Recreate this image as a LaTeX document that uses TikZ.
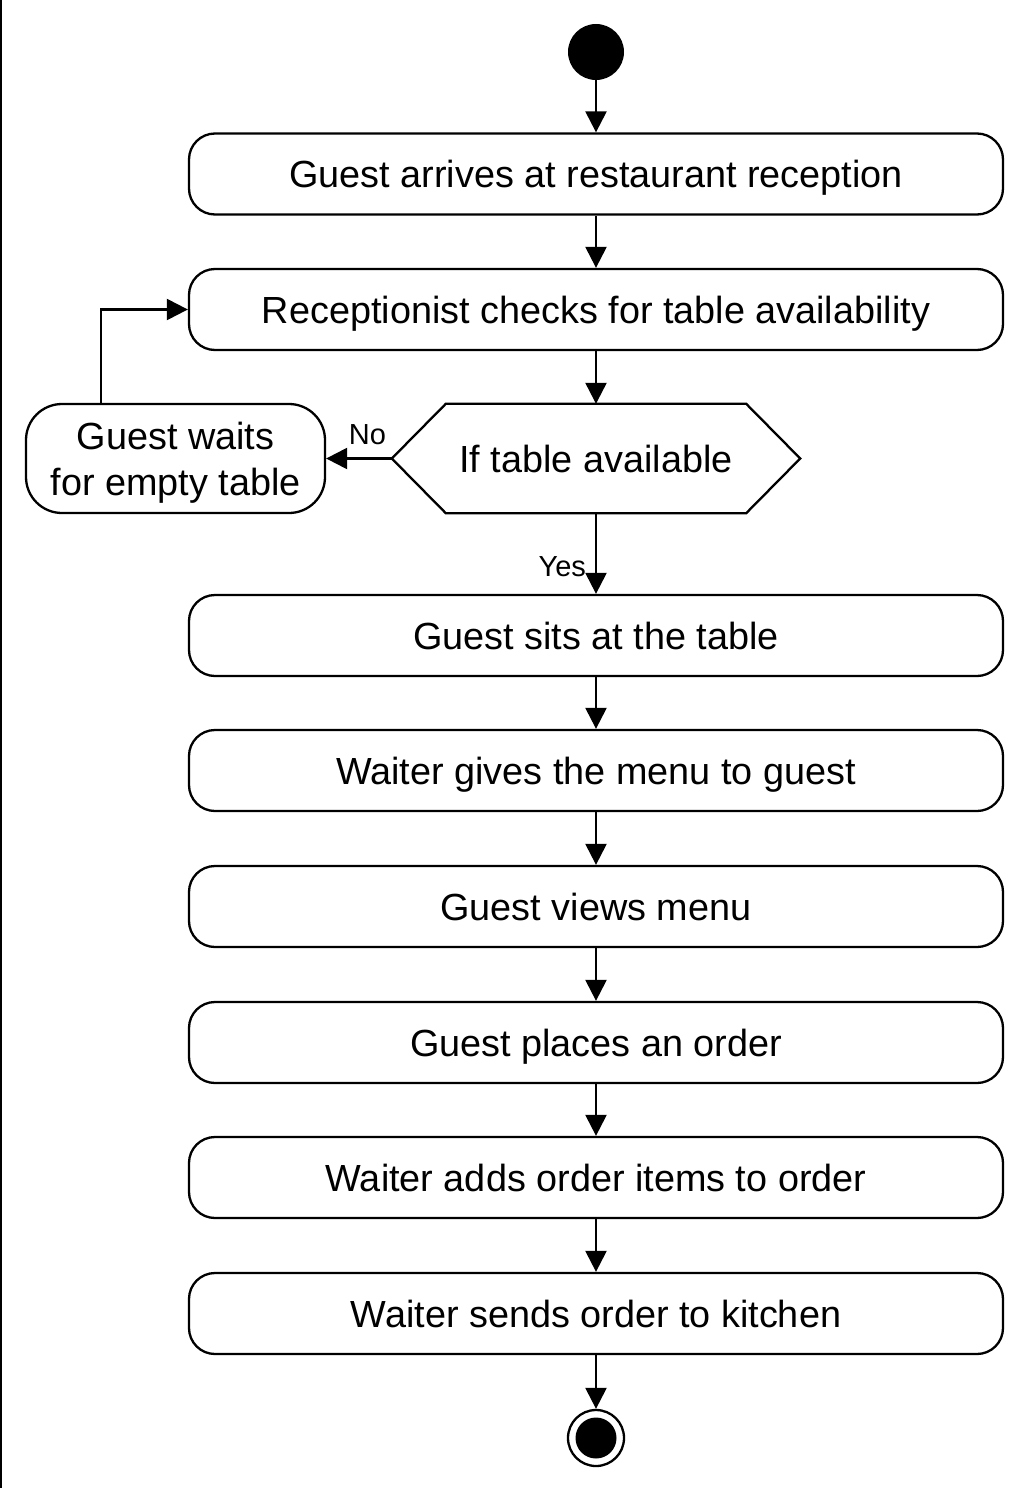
\documentclass[tikz,border=0pt]{standalone}
\usepackage{fontspec}
\setmainfont{Liberation Sans}
\usetikzlibrary{arrows.meta}
\tikzset{
  act/.style={draw, line width=2.3pt, rounded corners=26pt, minimum width=814pt, minimum height=81pt, inner sep=0pt, text height=27pt, text depth=0pt, font=\fontsize{37.8}{46}\selectfont},
  waitbox/.style={draw, line width=2.3pt, rounded corners=36pt, minimum width=299pt, minimum height=109pt, inner sep=0pt, align=center, text height=74pt, text depth=-1pt, font=\fontsize{37.8}{46}\selectfont},
  decbox/.style={minimum width=408pt, minimum height=109pt, inner sep=0pt, text height=27pt, text depth=0pt, font=\fontsize{37.8}{46}\selectfont},
  arr/.style={line width=2.3pt, -{Triangle[length=21pt,width=21pt]}},
  lbl/.style={inner sep=2pt, font=\fontsize{29}{34}\selectfont}
}
\begin{document}
\begin{tikzpicture}[x=1pt,y=-1pt]
\useasboundingbox (0,0) rectangle (1028,1488);
\fill[white] (0,0) rectangle (1028,1488);
\draw[line width=2pt] (1,0) -- (1,1488);

\node[circle, fill=black, minimum size=56pt, inner sep=0pt] (start) at (596,52) {};
\node[act] (a1) at (596,174) {Guest arrives at restaurant reception};
\node[act] (a2) at (596,309.5) {Receptionist checks for table availability};
\node[decbox] (dec) at (596,458.5) {If table available};
\draw[line width=2.3pt, line join=miter] (dec.west) -- ([xshift=54pt]dec.north west) -- ([xshift=-54pt]dec.north east) -- (dec.east) -- ([xshift=-54pt]dec.south east) -- ([xshift=54pt]dec.south west) -- cycle;
\node[waitbox] (wait) at (175.5,458.5) {Guest waits\\for empty table};
\node[act] (a3) at (596,635.5) {Guest sits at the table};
\node[act] (a4) at (596,770.5) {Waiter gives the menu to guest};
\node[act] (a5) at (596,906.5) {Guest views menu};
\node[act] (a6) at (596,1042.5) {Guest places an order};
\node[act] (a7) at (596,1177.5) {Waiter adds order items to order};
\node[act] (a8) at (596,1313.5) {Waiter sends order to kitchen};
\node[circle, draw, line width=2.3pt, minimum size=56pt, inner sep=0pt,
  path picture={\fill (path picture bounding box.center) circle (20.5pt);}] (end) at (596,1438) {};

\draw[arr] (start) -- (a1);
\draw[arr] (a1) -- (a2);
\draw[arr] (a2) -- (dec);
\draw[arr] (dec.west) -- node[lbl, pos=0.37, above=11pt] {No} (wait.east);
\draw[arr] ([xshift=-74.5pt]wait.north) |- (a2.west);
\draw[arr] (dec) -- node[lbl, pos=0.66, left=7pt] {Yes} (a3);
\draw[arr] (a3) -- (a4);
\draw[arr] (a4) -- (a5);
\draw[arr] (a5) -- (a6);
\draw[arr] (a6) -- (a7);
\draw[arr] (a7) -- (a8);
\draw[arr] (a8) -- (end);
\end{tikzpicture}
\end{document}
